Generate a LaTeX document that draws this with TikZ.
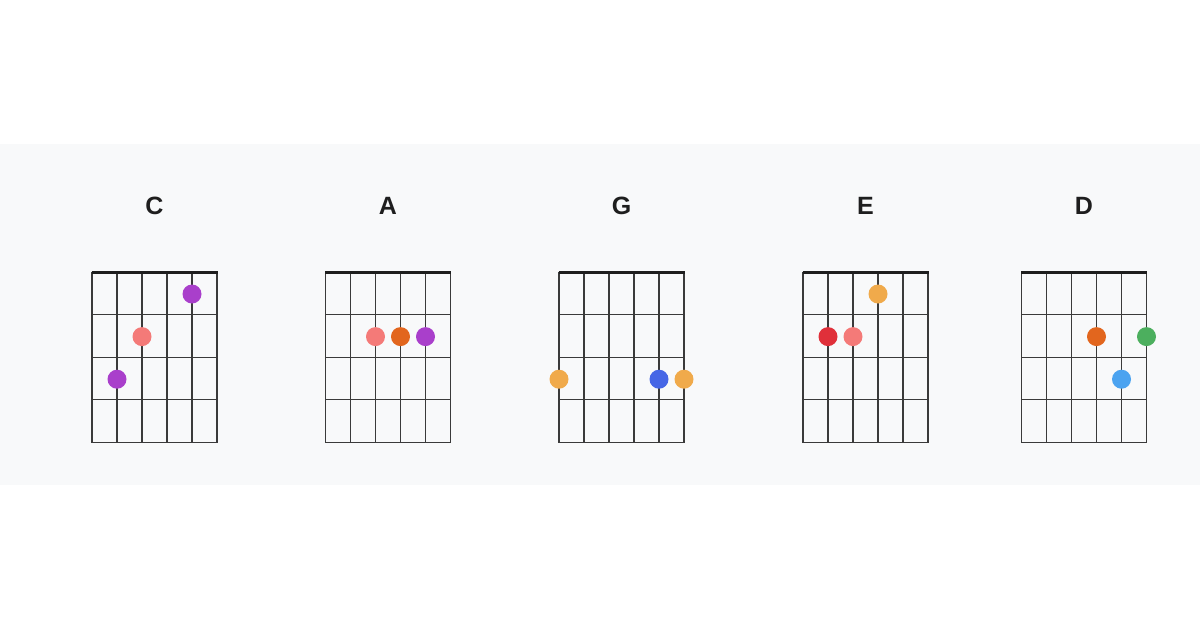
\documentclass[tikz,border=0pt]{standalone}
\usepackage{fontspec}
\setmainfont{Liberation Sans}
\definecolor{bandgray}{HTML}{F8F9FA}
\definecolor{gridc}{HTML}{3A3A3A}
\definecolor{nutc}{HTML}{1E1E1E}
\definecolor{cpurple}{HTML}{A93FCB}
\definecolor{ccoral}{HTML}{F47A78}
\definecolor{corange}{HTML}{E2661E}
\definecolor{clight}{HTML}{F0AA4B}
\definecolor{cblue}{HTML}{4666E6}
\definecolor{cred}{HTML}{E0303A}
\definecolor{cgreen}{HTML}{4CAF5E}
\definecolor{clblue}{HTML}{4BA3F0}
\tikzset{
  title/.style={font=\fontsize{25}{25}\selectfont\bfseries, text=nutc, inner sep=0pt},
  gridline/.style={draw=gridc, line width=1.1pt},
  nutline/.style={draw=nutc, line width=3pt},
  fdot/.style={circle, fill=#1, minimum size=19pt, inner sep=0pt, draw=none}
}
\begin{document}
\begin{tikzpicture}[x=1pt,y=-1pt]
\useasboundingbox (0,0) rectangle (1200,630);
\fill[white] (0,0) rectangle (1200,630);
\fill[bandgray] (0,144) rectangle (1200,485);
% grids
\foreach \gx/\name/\lab in {92/c/C,325.5/a/A,559/g/G,803/e/E,1021.5/d/D}{
  \node[title] (t\name) at (\gx+62.5,206) {\lab};
  \foreach \i in {0,...,5} \draw[gridline] (\gx+25*\i,272) -- (\gx+25*\i,442.5);
  \foreach \j in {1,...,4} \draw[gridline] (\gx,272+42.625*\j) -- (\gx+125,272+42.625*\j);
  \draw[nutline] (\gx-0.5,272) -- (\gx+125.5,272);
}
% C chord
\node[fdot=cpurple] (c1) at (92+100,294) {};
\node[fdot=ccoral] (c2) at (92+50,336.6) {};
\node[fdot=cpurple] (c3) at (92+25,379.2) {};
% A chord
\node[fdot=ccoral] (a1) at (325.5+50,336.6) {};
\node[fdot=corange] (a2) at (325.5+75,336.6) {};
\node[fdot=cpurple] (a3) at (325.5+100,336.6) {};
% G chord
\node[fdot=clight] (g1) at (559,379.2) {};
\node[fdot=cblue] (g2) at (559+100,379.2) {};
\node[fdot=clight] (g3) at (559+125,379.2) {};
% E chord
\node[fdot=clight] (e1) at (803+75,294) {};
\node[fdot=cred] (e2) at (803+25,336.6) {};
\node[fdot=ccoral] (e3) at (803+50,336.6) {};
% D chord
\node[fdot=corange] (d1) at (1021.5+75,336.6) {};
\node[fdot=cgreen] (d2) at (1021.5+125,336.6) {};
\node[fdot=clblue] (d3) at (1021.5+100,379.2) {};
\end{tikzpicture}
\end{document}
